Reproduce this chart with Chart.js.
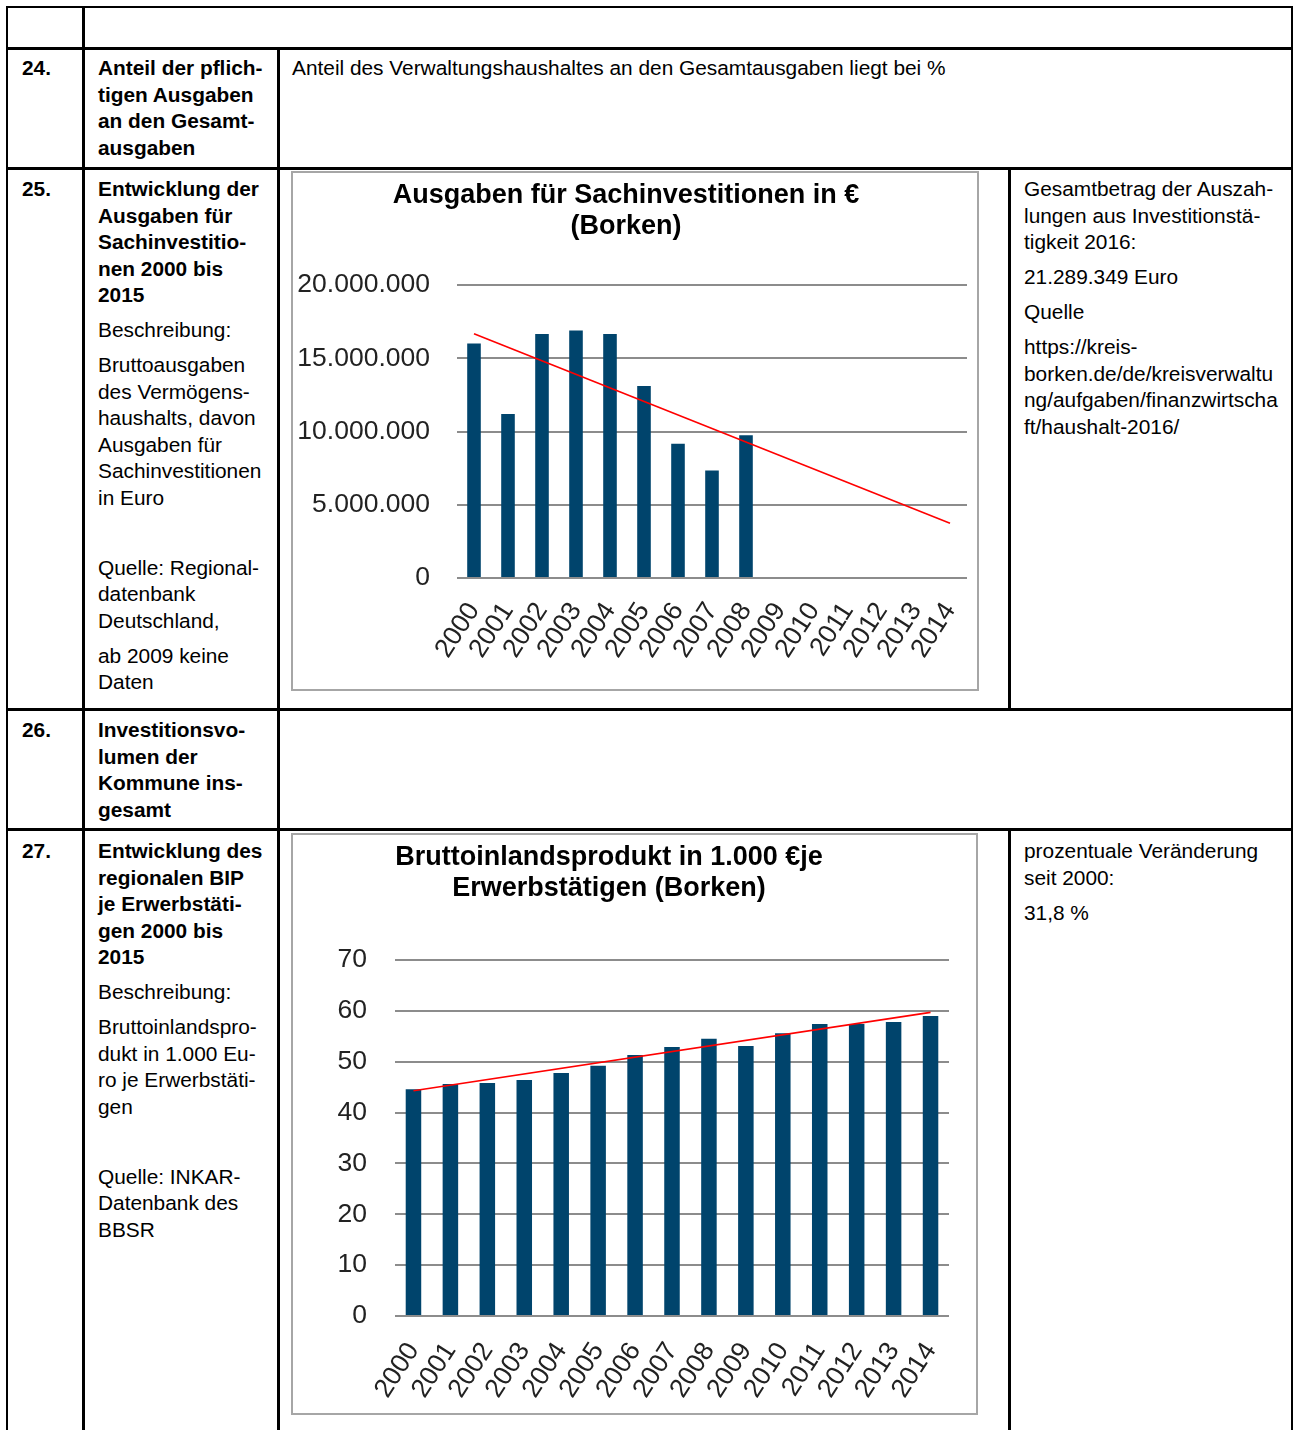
<!DOCTYPE html>
<html lang="de">
<head>
<meta charset="utf-8">
<title>Sachinvestitionen und BIP Borken</title>
<script src="https://cdn.jsdelivr.net/npm/chart.js@4.4.1/dist/chart.umd.min.js"></script>
<style>
  html, body { margin: 0; padding: 0; background: #fff; }
  body { width: 1293px; height: 1430px; position: relative; overflow: hidden;
         font-family: "Liberation Sans", Arial, sans-serif; font-size: 20.85px; line-height: 26.5px; color: #000; }
  .zelle { position: absolute; border: 2px solid #000; box-sizing: border-box; }
  .txt { position: absolute; }
  .txt p { margin: 0 0 8.5px 0; }
  b { font-weight: bold; }
  .box { position: absolute; border: 2px solid #a6a6a6; box-sizing: border-box; }
  canvas { position: absolute; }
</style>
</head>
<body>

<!-- Tabellenraster -->
<div class="zelle" style="left:6px;top:6px;width:79px;height:44px"></div>
<div class="zelle" style="left:82px;top:6px;width:1211px;height:44px"></div>

<div class="zelle" style="left:6px;top:47px;width:79px;height:123px"></div>
<div class="zelle" style="left:82px;top:47px;width:198px;height:123px"></div>
<div class="zelle" style="left:277px;top:47px;width:1016px;height:123px"></div>

<div class="zelle" style="left:6px;top:167px;width:79px;height:544px"></div>
<div class="zelle" style="left:82px;top:167px;width:198px;height:544px"></div>
<div class="zelle" style="left:277px;top:167px;width:734px;height:544px"></div>
<div class="zelle" style="left:1008px;top:167px;width:285px;height:544px"></div>

<div class="zelle" style="left:6px;top:708px;width:79px;height:123px"></div>
<div class="zelle" style="left:82px;top:708px;width:198px;height:123px"></div>
<div class="zelle" style="left:277px;top:708px;width:1016px;height:123px"></div>

<div class="zelle" style="left:6px;top:828px;width:79px;height:640px"></div>
<div class="zelle" style="left:82px;top:828px;width:198px;height:640px"></div>
<div class="zelle" style="left:277px;top:828px;width:734px;height:640px"></div>
<div class="zelle" style="left:1008px;top:828px;width:285px;height:640px"></div>

<!-- Zeile 24 -->
<div class="txt" style="left:22px;top:55px"><b>24.</b></div>
<div class="txt" style="left:98px;top:55px"><b>Anteil der pflich-<br>tigen Ausgaben<br>an den Gesamt-<br>ausgaben</b></div>
<div class="txt" style="left:292px;top:55px">Anteil des Verwaltungshaushaltes an den Gesamtausgaben liegt bei %</div>

<!-- Zeile 25 -->
<div class="txt" style="left:22px;top:176px"><b>25.</b></div>
<div class="txt" style="left:98px;top:176px;width:175px">
  <p><b>Entwicklung der<br>Ausgaben für<br>Sachinvestitio-<br>nen 2000 bis<br>2015</b></p>
  <p>Beschreibung:</p>
  <p>Bruttoausgaben<br>des Vermögens-<br>haushalts, davon<br>Ausgaben für<br>Sachinvestitionen<br>in Euro</p>
  <p>&nbsp;</p>
  <p>Quelle: Regional-<br>datenbank<br>Deutschland,</p>
  <p>ab 2009 keine<br>Daten</p>
</div>
<div class="txt" style="left:1024px;top:176px;width:265px">
  <p>Gesamtbetrag der Auszah-<br>lungen aus Investitionstä-<br>tigkeit 2016:</p>
  <p>21.289.349 Euro</p>
  <p>Quelle</p>
  <p>https://kreis-<br>borken.de/de/kreisverwaltu<br>ng/aufgaben/finanzwirtscha<br>ft/haushalt-2016/</p>
</div>

<!-- Zeile 26 -->
<div class="txt" style="left:22px;top:717px"><b>26.</b></div>
<div class="txt" style="left:98px;top:717px"><b>Investitionsvo-<br>lumen der<br>Kommune ins-<br>gesamt</b></div>

<!-- Zeile 27 -->
<div class="txt" style="left:22px;top:838px"><b>27.</b></div>
<div class="txt" style="left:98px;top:838px;width:175px">
  <p><b>Entwicklung des<br>regionalen BIP<br>je Erwerbstäti-<br>gen 2000 bis<br>2015</b></p>
  <p>Beschreibung:</p>
  <p>Bruttoinlandspro-<br>dukt in 1.000 Eu-<br>ro je Erwerbstäti-<br>gen</p>
  <p>&nbsp;</p>
  <p>Quelle: INKAR-<br>Datenbank des<br>BBSR</p>
</div>
<div class="txt" style="left:1024px;top:838px;width:265px">
  <p>prozentuale Veränderung<br>seit 2000:</p>
  <p>31,8 %</p>
</div>

<!-- Diagramme -->
<div class="box" style="left:291px;top:171px;width:688px;height:520px"></div>
<canvas id="grafSach" width="691" height="518" style="left:285px;top:172px"></canvas>

<div class="box" style="left:291px;top:833px;width:687px;height:582px"></div>
<canvas id="grafBip" width="708" height="580" style="left:269px;top:834px"></canvas>

<script>
// Daten
var jahre = ['2000','2001','2002','2003','2004','2005','2006','2007','2008','2009','2010','2011','2012','2013','2014'];

// Sachinvestitionen in Euro (ab 2009 keine Daten)
var sachinvest = [16000000, 11200000, 16650000, 16900000, 16650000, 13100000, 9170000, 7330000, 9740000, null, null, null, null, null, null];
var trendSach = [16680000, null, null, null, null, null, null, null, null, null, null, null, null, null, 3730000];
var yTicksSach = ['0', '5.000.000', '10.000.000', '15.000.000', '20.000.000'];

// BIP in 1.000 Euro je Erwerbstaetigen
var bip = [44.6, 45.6, 45.8, 46.4, 47.8, 49.2, 51.3, 52.9, 54.5, 53.1, 55.6, 57.4, 57.4, 57.8, 59.0];
var trendBip = [44.3, null, null, null, null, null, null, null, null, null, null, null, null, null, 59.7];
var yTicksBip = ['0', '10', '20', '30', '40', '50', '60', '70'];

var schrift = "'Liberation Sans', Arial, sans-serif";
var blau = '#00446c';
var rot = '#ff0000';
var gitter = '#8c8c8c';

Chart.defaults.font.family = schrift;

/* Grafik 1 */
var sach = document.getElementById('grafSach').getContext('2d');
new Chart(sach, {
  type: 'bar',
  data: {
    labels: jahre,
    datasets: [
      { type: 'line', data: trendSach, borderColor: rot, borderWidth: 1.6, pointRadius: 0, spanGaps: true, fill: false, order: 0 },
      { data: sachinvest, backgroundColor: blau, barPercentage: 0.4, categoryPercentage: 1, order: 1 }
    ]
  },
  options: {
    responsive: false,
    animation: false,
    devicePixelRatio: 1,
    layout: { padding: { left: 0, right: 9, top: 0, bottom: 0 } },
    plugins: {
      legend: { display: false },
      tooltip: { enabled: false },
      title: {
        display: true,
        text: ['Ausgaben für Sachinvestitionen in €', '(Borken)'],
        color: '#000',
        font: { size: 27, weight: 'bold', lineHeight: 1.15 },
        padding: { top: 8, bottom: 42.9 }
      }
    },
    scales: {
      x: {
        grid: { display: false },
        border: { display: false },
        ticks: { minRotation: 57, maxRotation: 57, autoSkip: false, padding: 11, color: '#222', font: { size: 26.5 } },
        afterFit: function (s) { s.height = 112; s.paddingLeft = 0; s.paddingRight = 0; }
      },
      y: {
        min: 0,
        max: 20000000,
        grid: { color: gitter, lineWidth: 2, drawTicks: false },
        border: { display: false },
        ticks: { stepSize: 5000000, padding: 27, color: '#222', font: { size: 26.5 },
                 callback: function (v, i) { return yTicksSach[i]; } },
        afterFit: function (s) { s.width = 172; }
      }
    }
  }
});

/* Grafik 2 */
var bipCtx = document.getElementById('grafBip').getContext('2d');
new Chart(bipCtx, {
  type: 'bar',
  data: {
    labels: jahre,
    datasets: [
      { type: 'line', data: trendBip, borderColor: rot, borderWidth: 1.6, pointRadius: 0, spanGaps: true, fill: false, order: 0 },
      { data: bip, backgroundColor: blau, barPercentage: 0.42, categoryPercentage: 1, order: 1 }
    ]
  },
  options: {
    responsive: false,
    animation: false,
    devicePixelRatio: 1,
    layout: { padding: { left: 0, right: 28, top: 0, bottom: 0 } },
    plugins: {
      legend: { display: false },
      tooltip: { enabled: false },
      title: {
        display: true,
        text: ['Bruttoinlandsprodukt in 1.000 €je', 'Erwerbstätigen (Borken)'],
        color: '#000',
        font: { size: 27, weight: 'bold', lineHeight: 1.15 },
        padding: { top: 8.4, bottom: 55.5 }
      }
    },
    scales: {
      x: {
        grid: { display: false },
        border: { display: false },
        ticks: { minRotation: 57, maxRotation: 57, autoSkip: false, padding: 13, color: '#222', font: { size: 26.5 } },
        afterFit: function (s) { s.height = 98; s.paddingLeft = 0; s.paddingRight = 0; }
      },
      y: {
        min: 0,
        max: 70,
        grid: { color: gitter, lineWidth: 2, drawTicks: false },
        border: { display: false },
        ticks: { stepSize: 10, padding: 28, color: '#222', font: { size: 26.5 },
                 callback: function (v, i) { return yTicksBip[i]; } },
        afterFit: function (s) { s.width = 126; }
      }
    }
  }
});
</script>
</body>
</html>
